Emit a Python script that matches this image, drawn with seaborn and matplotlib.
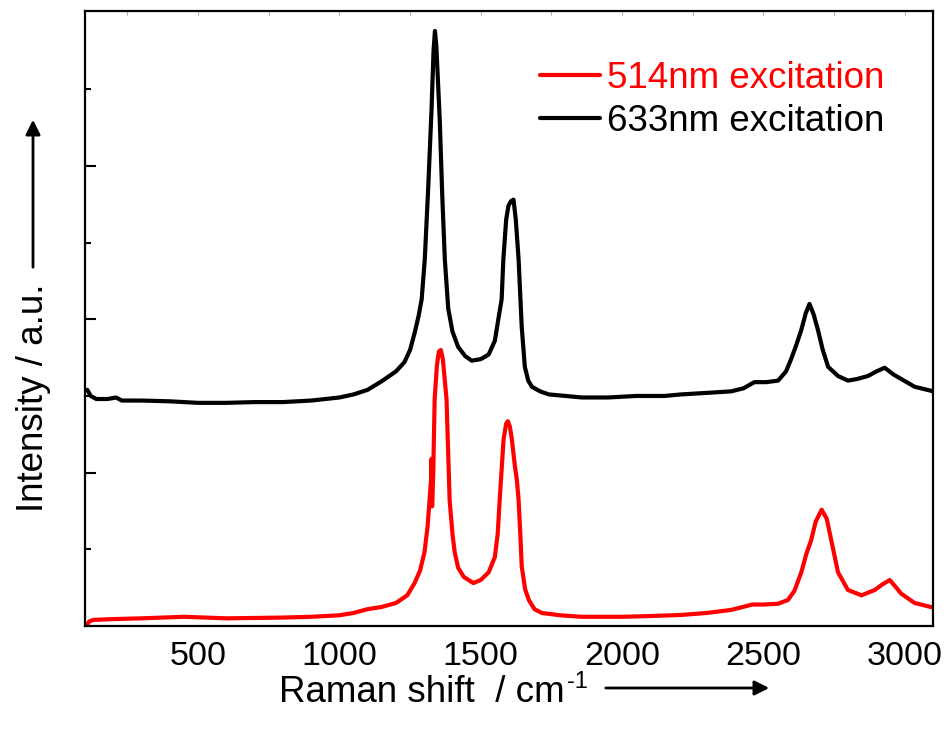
import numpy as np
import pandas as pd
import matplotlib
matplotlib.use("Agg")
import matplotlib.pyplot as plt
import seaborn as sns
from matplotlib.ticker import MultipleLocator, FixedLocator

# ---- data ----
x_633 = [108, 120, 140, 180, 210, 230, 300, 400, 500, 600, 700, 800, 900, 1000, 1050,
         1100, 1149, 1200, 1230, 1250, 1266, 1280, 1291, 1302, 1314, 1326, 1333, 1338,
         1343, 1350, 1355, 1364, 1373, 1385, 1400, 1420, 1445, 1468, 1500, 1528, 1550,
         1564, 1574, 1580, 1590, 1598, 1607, 1616, 1624, 1634, 1645, 1656, 1668, 1681,
         1710, 1741, 1800, 1858, 1950, 2050, 2150, 2209, 2300, 2386, 2430, 2468, 2510,
         2552, 2580, 2598, 2616, 2634, 2650, 2663, 2678, 2693, 2710, 2729, 2764, 2799,
         2830, 2870, 2900, 2929, 2960, 2988, 3035, 3101]
y_633 = [1.54, 1.50, 1.48, 1.48, 1.49, 1.47, 1.47, 1.465, 1.455, 1.455, 1.46, 1.46, 1.47,
         1.49, 1.51, 1.54, 1.595, 1.66, 1.72, 1.80, 1.91, 2.02, 2.13, 2.39, 2.85, 3.37,
         3.75, 3.88, 3.78, 3.50, 3.30, 2.80, 2.39, 2.07, 1.92, 1.82, 1.76, 1.73, 1.74,
         1.77, 1.86, 2.02, 2.13, 2.39, 2.65, 2.74, 2.77, 2.78, 2.65, 2.39, 1.95, 1.69,
         1.60, 1.56, 1.53, 1.51, 1.50, 1.49, 1.49, 1.50, 1.50, 1.51, 1.52, 1.53, 1.55,
         1.59, 1.59, 1.60, 1.66, 1.74, 1.83, 1.93, 2.04, 2.10, 2.03, 1.93, 1.80, 1.69,
         1.63, 1.60, 1.61, 1.63, 1.66, 1.684, 1.64, 1.61, 1.56, 1.53]

x_514 = [108, 115, 130, 200, 300, 450, 600, 800, 900, 1000, 1050, 1100, 1149, 1200, 1240,
         1266, 1285, 1301, 1312, 1319, 1324, 1326, 1328, 1332, 1337, 1345, 1352, 1359,
         1366, 1372, 1379, 1390, 1400, 1408, 1420, 1440, 1474, 1500, 1528, 1550, 1560,
         1567, 1575, 1581, 1590, 1596, 1603, 1610, 1616, 1621, 1628, 1634, 1640, 1645,
         1657, 1670, 1690, 1716, 1780, 1858, 2000, 2100, 2209, 2300, 2386, 2440, 2460,
         2500, 2552, 2587, 2610, 2634, 2652, 2669, 2685, 2706, 2724, 2740, 2764, 2799,
         2847, 2894, 2920, 2947, 2970, 2988, 3035, 3101]
y_514 = [0.01, 0.03, 0.04, 0.045, 0.05, 0.06, 0.05, 0.055, 0.06, 0.07, 0.085, 0.11, 0.124,
         0.15, 0.20, 0.28, 0.36, 0.48, 0.65, 0.82, 0.95, 1.09, 0.78, 1.00, 1.48, 1.70,
         1.79, 1.80, 1.74, 1.62, 1.48, 0.82, 0.60, 0.48, 0.38, 0.32, 0.28, 0.30, 0.35,
         0.45, 0.60, 0.82, 1.05, 1.22, 1.32, 1.335, 1.30, 1.22, 1.12, 1.04, 0.95, 0.82,
         0.60, 0.39, 0.24, 0.17, 0.11, 0.085, 0.07, 0.06, 0.06, 0.065, 0.072, 0.085,
         0.105, 0.13, 0.14, 0.14, 0.145, 0.17, 0.23, 0.35, 0.47, 0.56, 0.68, 0.758, 0.70,
         0.56, 0.35, 0.235, 0.20, 0.235, 0.27, 0.30, 0.25, 0.21, 0.15, 0.12]

labels = ["514nm excitation", "633nm excitation"]
colors = ["#FF0000", "#000000"]
x_ticks = [500, 1000, 1500, 2000, 2500, 3000]
y_major = [1, 2, 3]
y_minor = [0.5, 1.5, 2.5, 3.5]

df = pd.concat([
    pd.DataFrame({"shift": x_514, "intensity": y_514, "series": labels[0]}),
    pd.DataFrame({"shift": x_633, "intensity": y_633, "series": labels[1]}),
], ignore_index=True)

sns.set_style("white")
plt.rcParams["font.family"] = ["Liberation Sans", "DejaVu Sans"]
plt.rcParams["text.color"] = "black"
plt.rcParams["axes.labelcolor"] = "black"
plt.rcParams["xtick.color"] = "black"
plt.rcParams["ytick.color"] = "black"

fig = plt.figure(figsize=(9.5, 7.36), dpi=100)
ax = fig.add_axes([85 / 950, 1 - 626 / 736, 848 / 950, 615 / 736])

sns.lineplot(data=df, x="shift", y="intensity", hue="series", hue_order=labels,
             palette=dict(zip(labels, colors)), sort=False, estimator=None,
             linewidth=3, ax=ax)

ax.set_xlim(100, 3100)
ax.set_ylim(0, 4.01)
ax.set_xticks(x_ticks)
ax.xaxis.set_minor_locator(MultipleLocator(250))
ax.yaxis.set_major_locator(FixedLocator(y_major))
ax.yaxis.set_minor_locator(FixedLocator(y_minor))
ax.set_yticklabels([])
ax.tick_params(axis="x", which="major", direction="out", length=8, width=1.5,
               labelsize=24.5, pad=3, colors="black")
ax.tick_params(axis="x", which="minor", direction="out", length=4.3, width=1.5)
ax.tick_params(axis="y", which="major", direction="in", length=8, width=1.5, left=True)
ax.tick_params(axis="y", which="minor", direction="in", length=4.3, width=1.5, left=True)
for s in ax.spines.values():
    s.set_visible(True)
    s.set_linewidth(1.6)
    s.set_color("black")

top = ax.secondary_xaxis("top")
top.set_xticks(x_ticks)
top.xaxis.set_minor_locator(MultipleLocator(250))
top.tick_params(axis="x", which="both", direction="in", length=3, width=0.6,
                colors="#999999", labeltop=False)
top.spines["top"].set_visible(False)

ax.set_xlabel("")
ax.set_ylabel("")

leg = ax.legend(loc="upper left", bbox_to_anchor=((540 - 85) / 848, (626 - 61) / 615),
                frameon=False, fontsize=26.5, handlelength=1.63, handletextpad=0.2,
                labelspacing=0.22, borderpad=0, borderaxespad=0, labelcolor="linecolor")
for line in leg.get_lines():
    line.set_linewidth(3)

xl = fig.text(279 / 950, 1 - 702 / 736, "Raman shift  / cm", fontsize=26.5,
              ha="left", va="baseline")
fig.canvas.draw()
bb = xl.get_window_extent()
fig.text((bb.x1 + 2) / 950, 1 - 688 / 736, "-1", fontsize=17, ha="left", va="baseline")

fig.text(34 / 950, 1 - 398 / 736, "Intensity / a.u.", fontsize=26.5, rotation=90,
         ha="center", va="center")
fig.add_artist(matplotlib.patches.FancyArrowPatch(
    (603 / 950, 1 - 688 / 736), (772 / 950, 1 - 688 / 736), transform=fig.transFigure,
    arrowstyle="-|>", mutation_scale=22, linewidth=2, color="black"))
fig.add_artist(matplotlib.patches.FancyArrowPatch(
    (33 / 950, 1 - 270 / 736), (33 / 950, 1 - 117 / 736), transform=fig.transFigure,
    arrowstyle="-|>", mutation_scale=22, linewidth=2, color="black"))

fig.savefig("out.png", dpi=100)
